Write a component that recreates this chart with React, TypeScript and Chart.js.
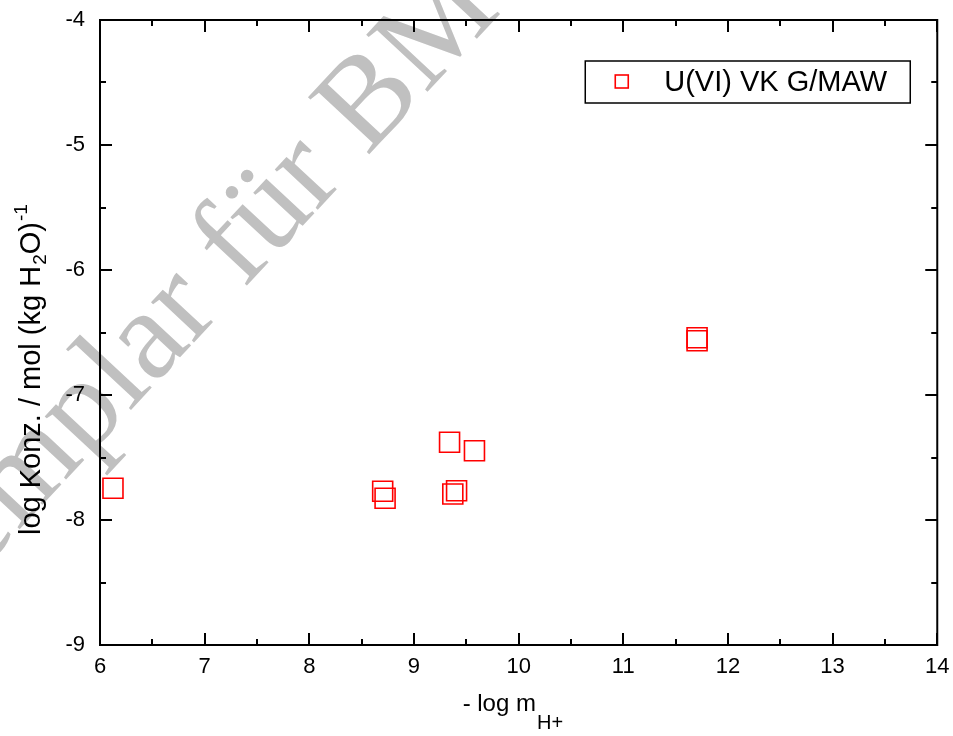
import React, { useEffect, useRef } from "react";
import { Chart, registerables } from "chart.js";

Chart.register(...registerables);

// ---- data ----
const SERIES_LABEL = "U(VI) VK G/MAW";
const X_VALUES = [6.124, 8.701, 8.724, 9.34, 9.578, 9.371, 9.407, 11.705, 11.705];
const Y_VALUES = [-7.746, -7.77, -7.826, -7.378, -7.446, -7.792, -7.766, -6.542, -6.566];
const X_TICKS = [6, 7, 8, 9, 10, 11, 12, 13, 14];
const Y_TICKS = [-9, -8, -7, -6, -5, -4];
const X_TITLE_MAIN = "- log m";
const X_TITLE_SUB = "H+";
const Y_TITLE_PARTS: { text: string; kind: "n" | "sub" | "sup" }[] = [
  { text: "log Konz. / mol (kg H", kind: "n" },
  { text: "2", kind: "sub" },
  { text: "O)", kind: "n" },
  { text: "-1", kind: "sup" },
];
const WATERMARK = "Exemplar für BMU";

const SANS = '"Liberation Sans", Arial, Helvetica, sans-serif';
const SERIF = '"Liberation Serif", "Times New Roman", serif';
const RED = "#ff0000";

const watermarkPlugin = {
  id: "watermark",
  beforeDraw(chart: any) {
    const ctx = chart.ctx;
    ctx.save();
    ctx.fillStyle = "#c0c0c0";
    const F = 128;
    ctx.font = `${F}px ${SERIF}`;
    ctx.textBaseline = "alphabetic";
    ctx.textAlign = "left";
    const th = (47 * Math.PI) / 180;
    const u = [Math.cos(th), -Math.sin(th)];
    const up = [-Math.sin(th), -Math.cos(th)];
    // anchor: centre of the "B" glyph
    const pre = ctx.measureText("Exemplar für ").width;
    const bw = ctx.measureText("B").width;
    const along = pre + bw / 2;
    const lift = 0.33 * F;
    const cx = 365, cy = 97;
    const sx = cx - up[0] * lift - u[0] * along;
    const sy = cy - up[1] * lift - u[1] * along;
    ctx.translate(sx, sy);
    ctx.rotate(-th);
    ctx.fillText(WATERMARK, 0, 0);
    ctx.restore();
  },
};

const framePlugin = {
  id: "frameTicks",
  afterDraw(chart: any) {
    const ctx = chart.ctx;
    const a = chart.chartArea;
    const xs = chart.scales.x;
    const ys = chart.scales.y;
    ctx.save();
    ctx.strokeStyle = "#000";
    ctx.lineWidth = 2;
    ctx.lineCap = "butt";
    const major = 12;
    const minor = 6;
    const xMinor: number[] = [];
    for (let i = 0; i < X_TICKS.length - 1; i++) xMinor.push((X_TICKS[i] + X_TICKS[i + 1]) / 2);
    const yMinor: number[] = [];
    for (let i = 0; i < Y_TICKS.length - 1; i++) yMinor.push((Y_TICKS[i] + Y_TICKS[i + 1]) / 2);
    ctx.beginPath();
    const tx = (v: number, len: number) => {
      const px = Math.round(xs.getPixelForValue(v));
      ctx.moveTo(px, a.bottom);
      ctx.lineTo(px, a.bottom - len);
      ctx.moveTo(px, a.top);
      ctx.lineTo(px, a.top + len);
    };
    const ty = (v: number, len: number) => {
      const py = Math.round(ys.getPixelForValue(v));
      ctx.moveTo(a.left, py);
      ctx.lineTo(a.left + len, py);
      ctx.moveTo(a.right, py);
      ctx.lineTo(a.right - len, py);
    };
    X_TICKS.forEach((v) => tx(v, major));
    xMinor.forEach((v) => tx(v, minor));
    Y_TICKS.forEach((v) => ty(v, major));
    yMinor.forEach((v) => ty(v, minor));
    ctx.stroke();
    ctx.strokeRect(a.left, a.top, a.right - a.left, a.bottom - a.top);

    // x title with subscript
    ctx.fillStyle = "#000";
    ctx.textBaseline = "alphabetic";
    ctx.textAlign = "left";
    ctx.font = `24px ${SANS}`;
    const wMain = ctx.measureText(X_TITLE_MAIN).width;
    const cx = (a.left + a.right) / 2;
    const x0 = cx - 56;
    ctx.fillText(X_TITLE_MAIN, x0, 711);
    ctx.font = `20px ${SANS}`;
    ctx.fillText(X_TITLE_SUB, x0 + wMain + 1, 729);

    // y title rotated with sub/superscripts
    ctx.save();
    ctx.translate(40, 535);
    ctx.rotate(-Math.PI / 2);
    let x = 0;
    const F = 29;
    const S = Math.round(F * 0.65);
    Y_TITLE_PARTS.forEach((p) => {
      if (p.kind === "n") {
        ctx.font = `${F}px ${SANS}`;
        ctx.fillText(p.text, x, 0);
        x += ctx.measureText(p.text).width;
      } else if (p.kind === "sub") {
        ctx.font = `${S}px ${SANS}`;
        ctx.fillText(p.text, x + 1, F * 0.22);
        x += ctx.measureText(p.text).width + 1;
      } else {
        ctx.font = `${S}px ${SANS}`;
        ctx.fillText(p.text, x + 1, -F * 0.45);
        x += ctx.measureText(p.text).width + 1;
      }
    });
    ctx.restore();

    // legend box
    const bx = a.right - 352;
    const by = 61;
    const bw = 325;
    const bh = 42;
    ctx.lineWidth = 1.5;
    ctx.strokeStyle = "#000";
    ctx.strokeRect(bx, by, bw, bh);
    const ds = chart.data.datasets[0];
    ctx.strokeStyle = ds.borderColor;
    ctx.lineWidth = 1.6;
    ctx.strokeRect(bx + 30, by + 14, 13, 13);
    ctx.fillStyle = "#000";
    ctx.font = `29px ${SANS}`;
    ctx.textBaseline = "middle";
    ctx.fillText(ds.label, bx + 79, by + bh / 2 + 1);
    ctx.restore();
  },
};

export default function App() {
  const canvasRef = useRef<HTMLCanvasElement | null>(null);

  useEffect(() => {
    const prevMargin = document.body.style.margin;
    document.body.style.margin = "0";
    const canvas = canvasRef.current;
    if (!canvas) return;
    const data = X_VALUES.map((x, i) => ({ x, y: Y_VALUES[i] }));
    const chart = new Chart(canvas, {
      type: "scatter",
      data: {
        datasets: [
          {
            label: SERIES_LABEL,
            data,
            borderColor: RED,
            backgroundColor: "rgba(0,0,0,0)",
            pointStyle: "rect",
            pointRadius: 14.14,
            pointHoverRadius: 14.14,
            pointBorderWidth: 1.6,
            showLine: false,
            clip: false as any,
          },
        ],
      },
      options: {
        animation: false,
        responsive: true,
        maintainAspectRatio: false,
        events: [],
        layout: { padding: { left: 0, right: 12, top: 20, bottom: 0 } },
        plugins: {
          legend: { display: false },
          tooltip: { enabled: false },
          title: { display: false },
        },
        scales: {
          x: {
            type: "linear",
            min: X_TICKS[0],
            max: X_TICKS[X_TICKS.length - 1],
            grid: { display: false, drawTicks: false },
            border: { display: false },
            afterBuildTicks: (s: any) => {
              s.ticks = X_TICKS.map((v) => ({ value: v }));
            },
            afterFit: (s: any) => {
              s.height = 91;
              s.paddingLeft = 0;
              s.paddingRight = 0;
            },
            ticks: {
              padding: 9,
              color: "#000",
              font: { family: SANS, size: 22 },
              maxRotation: 0,
              autoSkip: false,
              callback: (v: any) => String(v),
            },
          },
          y: {
            type: "linear",
            min: Y_TICKS[0],
            max: Y_TICKS[Y_TICKS.length - 1],
            grid: { display: false, drawTicks: false },
            border: { display: false },
            afterBuildTicks: (s: any) => {
              s.ticks = Y_TICKS.map((v) => ({ value: v }));
            },
            afterFit: (s: any) => {
              s.width = 100;
              s.paddingTop = 0;
              s.paddingBottom = 0;
            },
            ticks: {
              padding: 15,
              color: "#000",
              font: { family: SANS, size: 22 },
              autoSkip: false,
              callback: (v: any) => String(v),
            },
          },
        },
      },
      plugins: [watermarkPlugin, framePlugin],
    });
    return () => {
      chart.destroy();
      document.body.style.margin = prevMargin;
    };
  }, []);

  return (
    <div style={{ position: "absolute", left: 0, top: 0, width: 953, height: 736, overflow: "hidden", background: "#fff" }}>
      <canvas ref={canvasRef} style={{ display: "block" }} />
    </div>
  );
}
